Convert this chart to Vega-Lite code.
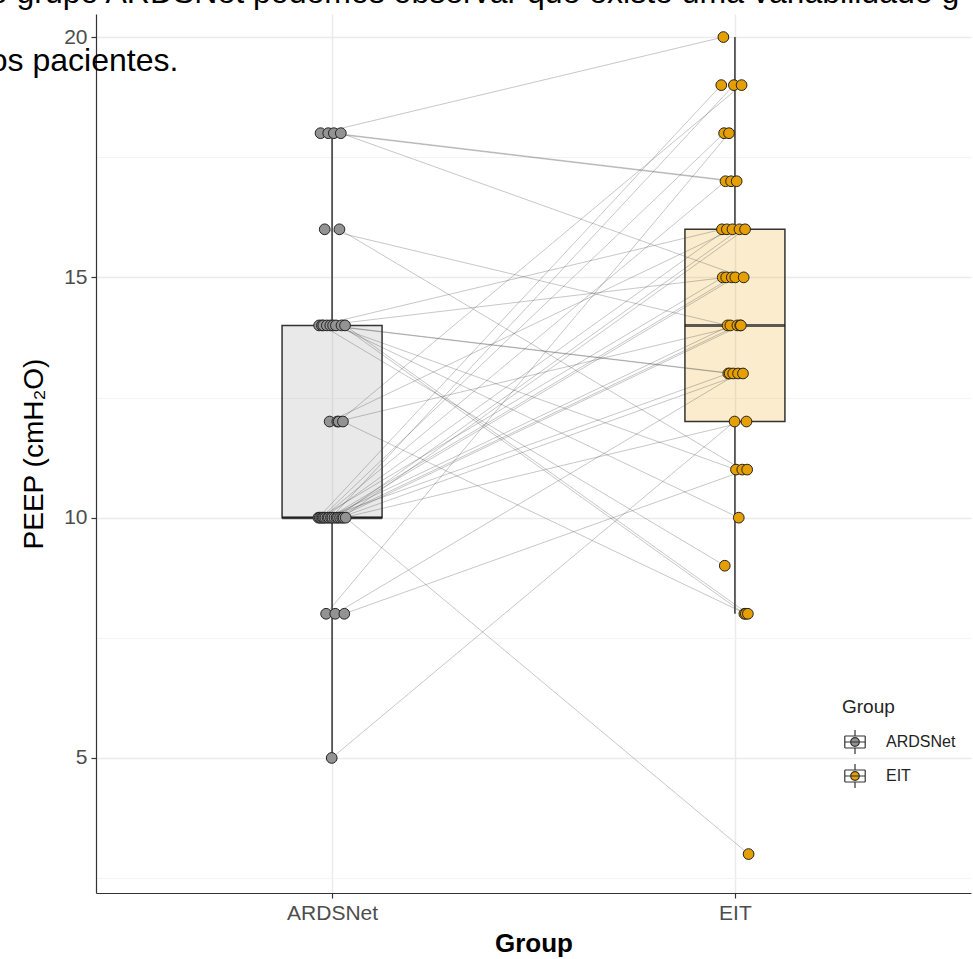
{
  "$schema": "https://vega.github.io/schema/vega-lite/v6.json",
  "width": 875,
  "height": 879,
  "autosize": {"type": "none"},
  "padding": {"left": 96, "top": 14, "right": 2, "bottom": 66},
  "background": "white",
  "config": {"view": {"stroke": null}, "font": "Liberation Sans"},
  "title": {
    "text": ["no grupo ARDSNet podemos observar que existe uma variabilidade g", "dos pacientes."],
    "anchor": "start",
    "frame": "group",
    "orient": "top",
    "baseline": "alphabetic",
    "fontSize": 32,
    "fontWeight": "normal",
    "font": "Liberation Sans",
    "color": "black",
    "lineHeight": 68,
    "dx": -124,
    "dy": 97,
    "offset": 8
  },
  "datasets": {
    "peep": [
      {"id": 1, "Group": "ARDSNet", "PEEP": 10}, {"id": 1, "Group": "EIT", "PEEP": 19},
      {"id": 2, "Group": "ARDSNet", "PEEP": 14}, {"id": 2, "Group": "EIT", "PEEP": 16},
      {"id": 3, "Group": "ARDSNet", "PEEP": 10}, {"id": 3, "Group": "EIT", "PEEP": 15},
      {"id": 4, "Group": "ARDSNet", "PEEP": 18}, {"id": 4, "Group": "EIT", "PEEP": 20},
      {"id": 5, "Group": "ARDSNet", "PEEP": 10}, {"id": 5, "Group": "EIT", "PEEP": 18},
      {"id": 6, "Group": "ARDSNet", "PEEP": 14}, {"id": 6, "Group": "EIT", "PEEP": 9},
      {"id": 7, "Group": "ARDSNet", "PEEP": 10}, {"id": 7, "Group": "EIT", "PEEP": 17},
      {"id": 8, "Group": "ARDSNet", "PEEP": 14}, {"id": 8, "Group": "EIT", "PEEP": 15},
      {"id": 9, "Group": "ARDSNet", "PEEP": 10}, {"id": 9, "Group": "EIT", "PEEP": 16},
      {"id": 10, "Group": "ARDSNet", "PEEP": 16}, {"id": 10, "Group": "EIT", "PEEP": 14},
      {"id": 11, "Group": "ARDSNet", "PEEP": 10}, {"id": 11, "Group": "EIT", "PEEP": 13},
      {"id": 12, "Group": "ARDSNet", "PEEP": 8}, {"id": 12, "Group": "EIT", "PEEP": 18},
      {"id": 13, "Group": "ARDSNet", "PEEP": 14}, {"id": 13, "Group": "EIT", "PEEP": 13},
      {"id": 14, "Group": "ARDSNet", "PEEP": 10}, {"id": 14, "Group": "EIT", "PEEP": 14},
      {"id": 15, "Group": "ARDSNet", "PEEP": 18}, {"id": 15, "Group": "EIT", "PEEP": 17},
      {"id": 16, "Group": "ARDSNet", "PEEP": 10}, {"id": 16, "Group": "EIT", "PEEP": 15},
      {"id": 17, "Group": "ARDSNet", "PEEP": 12}, {"id": 17, "Group": "EIT", "PEEP": 16},
      {"id": 18, "Group": "ARDSNet", "PEEP": 14}, {"id": 18, "Group": "EIT", "PEEP": 13},
      {"id": 19, "Group": "ARDSNet", "PEEP": 10}, {"id": 19, "Group": "EIT", "PEEP": 19},
      {"id": 20, "Group": "ARDSNet", "PEEP": 5}, {"id": 20, "Group": "EIT", "PEEP": 12},
      {"id": 21, "Group": "ARDSNet", "PEEP": 10}, {"id": 21, "Group": "EIT", "PEEP": 15},
      {"id": 22, "Group": "ARDSNet", "PEEP": 14}, {"id": 22, "Group": "EIT", "PEEP": 11},
      {"id": 23, "Group": "ARDSNet", "PEEP": 18}, {"id": 23, "Group": "EIT", "PEEP": 17},
      {"id": 24, "Group": "ARDSNet", "PEEP": 10}, {"id": 24, "Group": "EIT", "PEEP": 14},
      {"id": 25, "Group": "ARDSNet", "PEEP": 8}, {"id": 25, "Group": "EIT", "PEEP": 13},
      {"id": 26, "Group": "ARDSNet", "PEEP": 14}, {"id": 26, "Group": "EIT", "PEEP": 10},
      {"id": 27, "Group": "ARDSNet", "PEEP": 10}, {"id": 27, "Group": "EIT", "PEEP": 16},
      {"id": 28, "Group": "ARDSNet", "PEEP": 12}, {"id": 28, "Group": "EIT", "PEEP": 14},
      {"id": 29, "Group": "ARDSNet", "PEEP": 10}, {"id": 29, "Group": "EIT", "PEEP": 14},
      {"id": 30, "Group": "ARDSNet", "PEEP": 12}, {"id": 30, "Group": "EIT", "PEEP": 19},
      {"id": 31, "Group": "ARDSNet", "PEEP": 16}, {"id": 31, "Group": "EIT", "PEEP": 11},
      {"id": 32, "Group": "ARDSNet", "PEEP": 10}, {"id": 32, "Group": "EIT", "PEEP": 13},
      {"id": 33, "Group": "ARDSNet", "PEEP": 18}, {"id": 33, "Group": "EIT", "PEEP": 15},
      {"id": 34, "Group": "ARDSNet", "PEEP": 14}, {"id": 34, "Group": "EIT", "PEEP": 8},
      {"id": 35, "Group": "ARDSNet", "PEEP": 10}, {"id": 35, "Group": "EIT", "PEEP": 16},
      {"id": 36, "Group": "ARDSNet", "PEEP": 12}, {"id": 36, "Group": "EIT", "PEEP": 8},
      {"id": 37, "Group": "ARDSNet", "PEEP": 10}, {"id": 37, "Group": "EIT", "PEEP": 12},
      {"id": 38, "Group": "ARDSNet", "PEEP": 8}, {"id": 38, "Group": "EIT", "PEEP": 11},
      {"id": 39, "Group": "ARDSNet", "PEEP": 14}, {"id": 39, "Group": "EIT", "PEEP": 8},
      {"id": 40, "Group": "ARDSNet", "PEEP": 10}, {"id": 40, "Group": "EIT", "PEEP": 3}
    ]
  },
  "data": {"name": "peep"},
  "encoding": {
    "x": {
      "field": "Group",
      "type": "nominal",
      "scale": {"type": "point", "padding": 0.586, "domain": ["ARDSNet", "EIT"]},
      "axis": {
        "title": "Group",
        "titleFontSize": 26,
        "titleFontWeight": "bold",
        "titleColor": "black",
        "titlePadding": 7,
        "labelFontSize": 21,
        "labelColor": "#4d4d4d",
        "labelAngle": 0,
        "labelPadding": 4,
        "domainColor": "#333333",
        "domainWidth": 1.2,
        "tickColor": "#333333",
        "tickSize": 5,
        "tickWidth": 1.2,
        "grid": true,
        "gridColor": "#ebebeb",
        "gridWidth": 1.5
      }
    },
    "y": {
      "field": "PEEP",
      "type": "quantitative",
      "scale": {"domain": [2.19, 20.48], "nice": false, "zero": false},
      "axis": {
        "title": "PEEP (cmH₂O)",
        "titleFontSize": 28,
        "titleFontWeight": "normal",
        "titleColor": "black",
        "titlePadding": 15,
        "values": [2.5, 5, 7.5, 10, 12.5, 15, 17.5, 20],
        "labelExpr": "datum.value % 5 === 0 ? datum.label : ''",
        "labelFontSize": 21,
        "labelColor": "#4d4d4d",
        "labelPadding": 4,
        "domainColor": "#333333",
        "domainWidth": 1.2,
        "tickColor": {"condition": {"test": "datum.value % 5 === 0", "value": "#333333"}, "value": "transparent"},
        "tickSize": 5,
        "tickWidth": 1.2,
        "grid": true,
        "gridColor": {"condition": {"test": "datum.value % 5 === 0", "value": "#ebebeb"}, "value": "#f4f4f4"},
        "gridWidth": {"condition": {"test": "datum.value % 5 === 0", "value": 1.5}, "value": 1}
      }
    },
    "color": {
      "field": "Group",
      "type": "nominal",
      "scale": {"domain": ["ARDSNet", "EIT"], "range": ["#939393", "#E69F00"]},
      "legend": {
        "orient": "none",
        "legendX": 746,
        "legendY": 684,
        "padding": 0,
        "title": "Group",
        "titleFontSize": 19,
        "titleFontWeight": "normal",
        "titleColor": "#222222",
        "titlePadding": 12,
        "labelFontSize": 16,
        "labelColor": "#222222",
        "labelOffset": 18,
        "rowPadding": 4,
        "symbolType": "M -0.85 -0.5 L 0.85 -0.5 M 0.85 -0.5 L 0.85 0.5 M 0.85 0.5 L -0.85 0.5 M -0.85 0.5 L -0.85 -0.5 M -0.85 0 L 0.85 0 M 0 -1 L 0 -0.5 M 0 0.5 L 0 1 M -0.36 0 A 0.36 0.36 0 1 0 0.36 0 A 0.36 0.36 0 1 0 -0.36 0 Z",
        "symbolSize": 576,
        "symbolStrokeColor": "#333333",
        "symbolStrokeWidth": 1.2,
        "symbolOpacity": 1,
        "symbolFillOpacity": 1
      }
    }
  },
  "layer": [
    {
      "mark": {
        "type": "boxplot",
        "extent": 1.5,
        "size": 100,
        "outliers": false,
        "ticks": false,
        "box": {"fillOpacity": 0.2, "stroke": "#333333", "strokeWidth": 1.5},
        "median": {"color": "#1a1a1a", "thickness": 3},
        "rule": {"color": "#333333", "strokeWidth": 1.5}
      }
    },
    {
      "mark": {"type": "line", "color": "#444444", "strokeWidth": 1, "opacity": 0.3},
      "encoding": {
        "color": {"value": "#444444"},
        "detail": {"field": "id", "type": "nominal"},
        "xOffset": {"field": "id", "type": "nominal", "scale": {"range": [-14, 14]}}
      }
    },
    {
      "mark": {"type": "point", "filled": true, "size": 115, "stroke": "#222222", "strokeWidth": 1, "fillOpacity": 1, "opacity": 1},
      "encoding": {
        "xOffset": {"field": "id", "type": "nominal", "scale": {"range": [-14, 14]}}
      }
    }
  ]
}
